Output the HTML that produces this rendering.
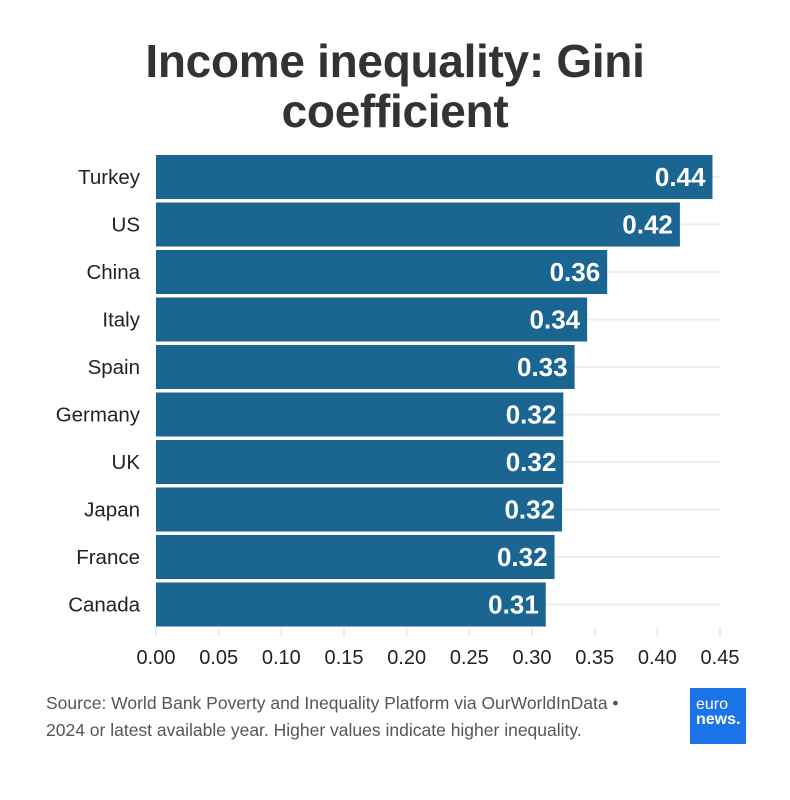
<!DOCTYPE html>
<html><head><meta charset="utf-8"><style>
body{margin:0;background:#fff;width:790px;height:800px;overflow:hidden;font-family:"Liberation Sans",sans-serif}
#title{position:absolute;left:0;width:790px;top:36px;text-align:center;font-size:46px;font-weight:bold;color:#333;line-height:50px;letter-spacing:-0.3px}
#src{position:absolute;left:46px;top:690px;font-size:17.5px;color:#555;line-height:27px}
#logo{position:absolute;left:690px;top:688px;width:56px;height:56px;background:#1a74e8;color:#fff;font-size:16px;line-height:15px;padding:9px 0 0 6px;box-sizing:border-box}
</style></head><body>
<div id="title">Income inequality: Gini<br>coefficient</div>
<svg id="chart" width="790" height="800" style="position:absolute;left:0;top:0"></svg>
<div id="src">Source: World Bank Poverty and Inequality Platform via OurWorldInData •<br>2024 or latest available year. Higher values indicate higher inequality.</div>
<div id="logo">euro<br><b>news.</b></div>
<script>
const categories=["Turkey","US","China","Italy","Spain","Germany","UK","Japan","France","Canada"];
const values=[0.444,0.418,0.36,0.344,0.334,0.325,0.325,0.324,0.318,0.311];
const labels=["0.44","0.42","0.36","0.34","0.33","0.32","0.32","0.32","0.32","0.31"];
const ticks=[0,0.05,0.1,0.15,0.2,0.25,0.3,0.35,0.4,0.45];
const tickLabels=["0.00","0.05","0.10","0.15","0.20","0.25","0.30","0.35","0.40","0.45"];
const NS="http://www.w3.org/2000/svg",svg=document.getElementById('chart');
const x0=156,x1=720,top0=155,pitch=47.5,bh=44;
const xs=v=>x0+(x1-x0)*v/0.45;
const ys=i=>top0+i*pitch;
function mk(t,a){const e=document.createElementNS(NS,t);for(const k in a)e.setAttribute(k,a[k]);svg.appendChild(e);return e;}
categories.forEach((c,i)=>{
 const g=mk('line',{x1:x0,x2:x1,y1:ys(i)+bh/2,y2:ys(i)+bh/2,stroke:'#eee','stroke-width':2});
 
 
});
ticks.forEach((t,i)=>{
 const l=mk('line',{x1:xs(t),x2:xs(t),y1:ys(9)+bh+2,y2:ys(9)+bh+10,stroke:'#e4e4e4','stroke-width':1.5});
 
 
 const tx=mk('text',{x:xs(t),y:664,'text-anchor':'middle','font-size':20,fill:'#222'});
 tx.textContent=tickLabels[i];
 
 
});
categories.forEach((c,i)=>{
 const r=mk('rect',{x:x0,y:ys(i),width:xs(values[i])-x0,height:bh,fill:'#1b6592'});
 
 
 const t=mk('text',{x:x0-16,y:ys(i)+bh/2+7,'text-anchor':'end','font-size':20.5,fill:'#222'});
 t.textContent=c;
 
 
 const v=mk('text',{x:xs(values[i])-7,y:ys(i)+bh/2+9,'text-anchor':'end','font-size':26,'font-weight':'bold',fill:'#fff'});
 v.textContent=labels[i];
 
 
});
</script>
</body></html>
